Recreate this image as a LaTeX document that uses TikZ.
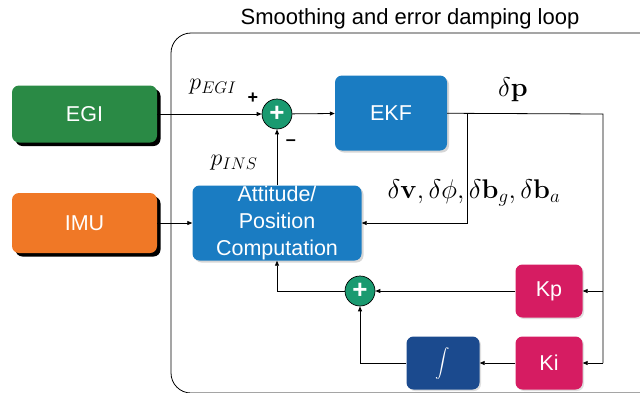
\RequirePackage{fix-cm}
\documentclass[tikz,border=0pt]{standalone}
\usepackage{amsmath}
\usepackage[no-math]{fontspec}
\setmainfont{Liberation Sans}
\usetikzlibrary{arrows.meta,shadows}
\begin{document}
\begin{tikzpicture}[x=1pt,y=-1pt,
  blk/.style={rounded corners=7pt, text=white, inner sep=0pt, align=center, font=\fontsize{21.5}{27}\selectfont},
  srcblk/.style={blk, drop shadow={fill=black, opacity=1, shadow xshift=3.5pt, shadow yshift=-3.5pt}},
  filtblk/.style={blk, fill=ekfblue, general shadow={fill=black!40, opacity=0.4, shadow xshift=2pt, shadow yshift=-2pt}},
  gainblk/.style={blk, fill=gainred, minimum width=67pt, minimum height=53pt, general shadow={fill=black!40, opacity=0.3, shadow xshift=1.5pt, shadow yshift=-1.5pt}},
  sum/.style={circle, draw=black, line width=0.7pt, fill=sumgreen, minimum size=30pt, inner sep=0pt, text=white, font=\fontsize{26}{26}\selectfont\bfseries},
  arr/.style={-{Triangle[length=5pt,width=4pt]}, line width=0.8pt},
  ln/.style={line width=0.8pt},
  lbl/.style={font=\fontsize{24}{28}\selectfont},
  errlbl/.style={font=\fontsize{27}{30}\selectfont}]
\definecolor{egigreen}{HTML}{2A8A45}
\definecolor{imuorange}{HTML}{F07826}
\definecolor{ekfblue}{HTML}{1A7CC2}
\definecolor{sumgreen}{HTML}{1A9A70}
\definecolor{gainred}{HTML}{D61C62}
\definecolor{intblue}{HTML}{1B4A8E}
\useasboundingbox (0,0) rectangle (640,392);
\clip (0,0) rectangle (640,392);
\pgfmathsetmacro\rx{603}
\pgfmathsetmacro\bx{467}

\node[font=\fontsize{22}{24}\selectfont] (title) at (410,19) {Smoothing and error damping loop};
\draw[line width=0.8pt, rounded corners=20pt] (171,33) rectangle (680,393);

\node[srcblk, fill=egigreen, minimum width=145pt, minimum height=57pt] (egi) at (84.5,114) {EGI};
\node[srcblk, fill=imuorange, minimum width=145pt, minimum height=60pt] (imu) at (84.5,223) {IMU};
\node[sum] (sum1) at (277,114) {+};
\node[filtblk, minimum width=112pt, minimum height=75pt] (ekf) at (391,113) {EKF};
\node[filtblk, minimum width=169pt, minimum height=75pt] (att) at (277,223) {Attitude/\\Position\\Computation};
\node[sum] (sum2) at (360,291) {+};
\foreach \g/\y in {p/291,i/363} \node[gainblk] (k\g) at (549,\y) {K\g};
\node[blk, fill=intblue, minimum width=73pt, minimum height=53pt, general shadow={fill=black!40, opacity=0.3, shadow xshift=1.5pt, shadow yshift=-1.5pt}] (int) at (443,363) {\fontsize{15}{15}\selectfont$\displaystyle\int$};

\node[lbl] (pegi) at (213,87) {$p_{EGI}$};
\node[lbl] (pins) at (234,163) {$p_{INS}$};
\node[font=\fontsize{18}{18}\selectfont\bfseries] (plus) at (253,98) {+};
\node[font=\fontsize{18}{18}\selectfont\bfseries] (minus) at (291,143) {--};
\node[errlbl] (dp) at (513,90) {$\delta\mathbf{p}$};
\node[errlbl] (dstate) at (474,193) {$\delta\mathbf{v},\delta\phi,\delta\mathbf{b}_g,\delta\mathbf{b}_a$};

\coordinate (tr) at (\rx,114);
\coordinate (br) at (\rx,363);
\coordinate (tap) at (\bx,114);

\draw[arr] (egi) -- (sum1);
\draw[arr] (sum1) -- (ekf);
\draw[arr] (att) -- (sum1);
\draw[arr] (imu) -- (att);
\draw[ln] (ekf) -- (tr) -- (br);
\draw[arr] (tap) -- (tap |- att) -- (att);
\draw[arr] (tr |- kp) -- (kp);
\draw[arr] (br) -- (ki);
\draw[arr] (ki) -- (int);
\draw[arr] (kp) -- (sum2);
\draw[arr] (int) -| (sum2);
\draw[arr] (sum2) -| (att);
\end{tikzpicture}
\end{document}
